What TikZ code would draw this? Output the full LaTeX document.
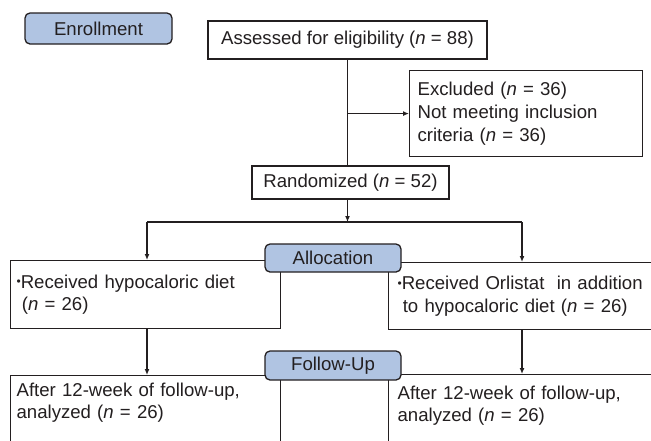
\documentclass[tikz,border=0pt]{standalone}
\usepackage{fontspec}
\setmainfont{Liberation Sans}
\usepackage{tikz}
\usetikzlibrary{arrows.meta}
\definecolor{fc_blue}{RGB}{176, 196, 226}
\definecolor{fc_ink}{RGB}{35, 31, 32}
\newcommand{\dotmark}{\raisebox{0.12em}{\fontsize{12}{12}\selectfont •}}
\tikzstyle{phase}=[rectangle,rounded corners=5pt,fill=fc_blue,draw=fc_ink,
  line width=1.3pt,inner sep=0pt,minimum width=136pt,minimum height=28pt]
\tikzstyle{box}=[rectangle,draw=fc_ink,fill=white,
  line width=1.2pt,inner xsep=8pt,inner ysep=0pt]
\tikzstyle{arr}=[-{Latex[length=6pt,width=5pt]},line width=1.2pt,draw=fc_ink]

\begin{document}
\begin{tikzpicture}[x=1pt,y=-1pt,font=\fontsize{18.6}{22.8}\selectfont,text=fc_ink]
        \useasboundingbox (0,0) rectangle (651,440);
        \clip (0,0) rectangle (651,440);
        \node [style=box,minimum width=279pt,minimum height=38pt] (ass) at (347.5,40) {Assessed for eligibility (\textit{n} = 88)};
        \node [style=box,anchor=north west,minimum width=233pt,minimum height=86pt,
          text width=217pt,align=left] (exc) at (409,70) {Excluded (\textit{n} = 36)\\Not meeting inclusion\\criteria (\textit{n} = 36)};
        \node [style=box,minimum width=197pt,minimum height=33pt] (rnd) at (350.5,182.5) {Randomized (\textit{n} = 52)};
        \node [style=box,anchor=north west,minimum width=270pt,minimum height=68pt,
          inner xsep=6pt,text width=258pt,align=left] (dietL) at (10,260) {\dotmark Received hypocaloric diet\\\hspace*{0.28em}(\textit{n} = 26)};
        \node [style=box,anchor=north west,minimum width=280pt,minimum height=67pt,
          inner xsep=9pt,text width=262pt,align=left] (orlR) at (388,262) {\dotmark Received Orlistat\ \ in addition\\\hspace*{0.28em}to hypocaloric diet (\textit{n} = 26)};
        \node [style=box,anchor=north west,minimum width=270pt,inner xsep=6pt,inner ysep=7pt,
          text width=258pt,align=left,text depth=45pt] (endL) at (10,375) {After 12-week of follow-up,\\analyzed (\textit{n} = 26)};
        \node [style=box,anchor=north west,minimum width=280pt,inner xsep=9pt,inner ysep=11pt,
          text width=262pt,align=left,text depth=45pt] (endR) at (388,374) {After 12-week of follow-up,\\analyzed (\textit{n} = 26)};
        \coordinate (split) at (347.5,222);
        \coordinate (armL) at (147,222);
        \coordinate (armR) at (522,222);
        \draw [line width=1.2pt,draw=fc_ink] (ass.south) to (ass.south |- rnd.north);
        \draw [style=arr] (ass.south |- exc.west) to (exc.west);
        \draw [style=arr] (split |- rnd.south) to (split);
        \draw [line width=1.2pt,draw=fc_ink] (armL) to (armR);
        \draw [style=arr] (armL) to (armL |- dietL.north);
        \draw [style=arr] (armR) to (armR |- orlR.north);
        \draw [style=arr] (armL |- dietL.south) to (armL |- endL.north);
        \draw [style=arr] (armR |- orlR.south) to (armR |- endR.north);
        \node [style=phase,minimum width=147pt,minimum height=31pt] (enr) at (98.5,28.5) {Enrollment};
        \node [style=phase] (alc) at (333,258) {Allocation};
        \node [style=phase,minimum height=29pt] (fol) at (333,365.5) {Follow-Up};
    \end{tikzpicture}
\end{document}
